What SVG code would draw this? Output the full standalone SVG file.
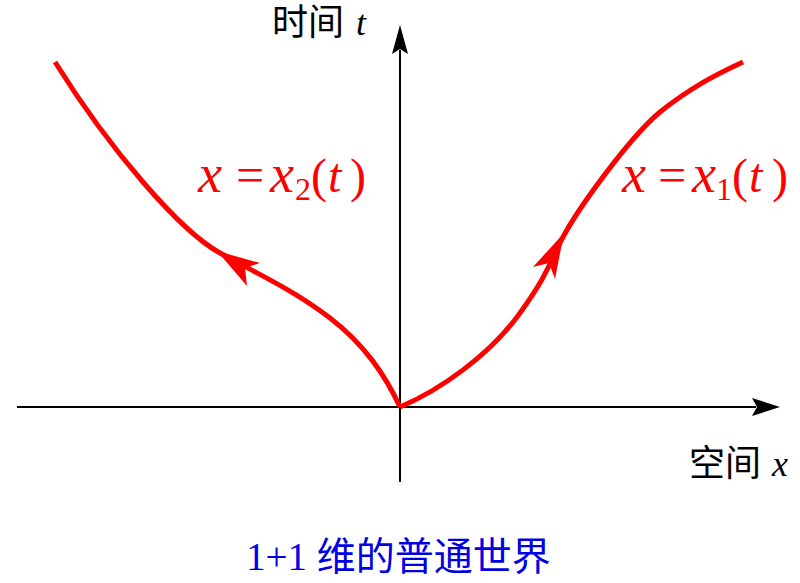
<svg xmlns="http://www.w3.org/2000/svg" width="800" height="583" viewBox="0 0 800 583">
<style>
.axis{stroke:#000;stroke-width:2;fill:none}
.ah{fill:#000}
.curve{stroke:#f00;stroke-width:5;fill:none;stroke-linecap:butt}
.cah{fill:#f00}
.lbl{font-family:"Liberation Serif","Noto Sans CJK SC",serif;font-size:36px;fill:#000}
.math{font-family:"Liberation Serif",serif;font-size:48px;fill:#f00}
.it{font-style:italic}
.vx{font-size:54px}
.eq{font-size:50px}
.sub{font-size:32px}
.cap{font-family:"Liberation Serif","Noto Sans CJK SC",serif;font-size:39px;fill:#0000e0}
</style>
<rect width="800" height="583" fill="#fff"/>
<g id="connectors">
<g id="x-axis">
<line class="axis" x1="17" y1="407" x2="756" y2="407"/>
<polygon class="ah" points="780,407 752,398 757,407 752,416"/>
</g>
<g id="t-axis">
<line class="axis" x1="400" y1="482" x2="400" y2="50"/>
<polygon class="ah" points="400,25 392,54 400,49 408,54"/>
</g>
<g id="worldline-1">
<path class="curve" d="M400,407 C440,390 490,355 520,313 S548,265 563,237 C578,209 628,139 660,112 C690,88 715,75 743,62"/>
<polygon class="cah" points="564,233 555,279 549,263 533,267"/>
</g>
<g id="worldline-2">
<path class="curve" d="M400,407 C385,375 365,345 330,318 S260,275 220,253 S110,150 55,62"/>
<polygon class="cah" points="217,251 260,263 245,268 247,286"/>
</g>
</g>
<g id="label-t">
<text class="lbl" x="272" y="35">时间 <tspan class="it" x="356">t</tspan></text>
</g>
<g id="label-x">
<text class="lbl" x="689" y="476">空间 <tspan class="it" x="772">x</tspan></text>
</g>
<g id="label-x2">
<text class="math" y="192"><tspan class="it vx" x="198">x</tspan><tspan class="eq" x="236">=</tspan><tspan class="it vx" x="270">x</tspan><tspan class="sub" x="295" y="200">2</tspan><tspan x="311" y="192">(</tspan><tspan class="it" x="328">t</tspan><tspan x="350">)</tspan></text>
</g>
<g id="label-x1">
<text class="math" y="192"><tspan class="it vx" x="622">x</tspan><tspan class="eq" x="658">=</tspan><tspan class="it vx" x="692">x</tspan><tspan class="sub" x="716" y="200">1</tspan><tspan x="732" y="192">(</tspan><tspan class="it" x="749">t</tspan><tspan x="772">)</tspan></text>
</g>
<g id="caption">
<text class="cap" x="246" y="570">1+1 维的普通世界</text>
</g>
</svg>
